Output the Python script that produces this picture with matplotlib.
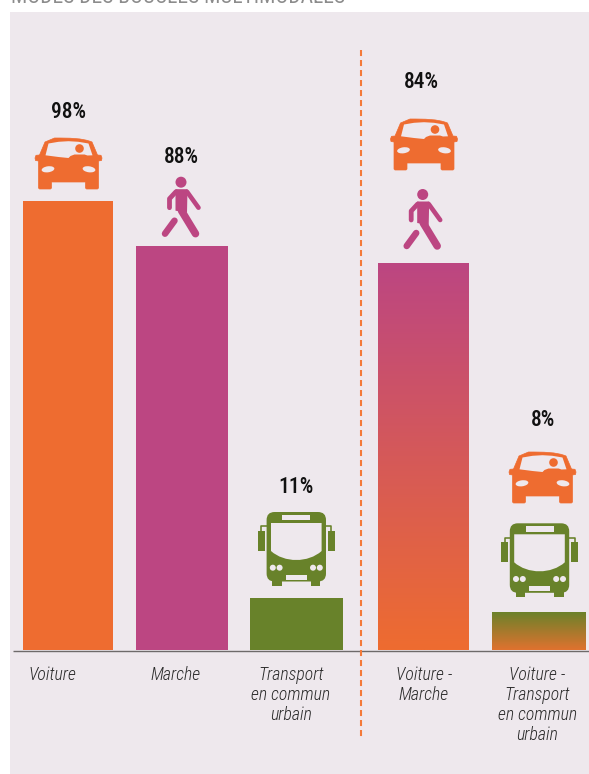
import numpy as np
import matplotlib
matplotlib.use('Agg')
import matplotlib.pyplot as plt
from matplotlib.colors import LinearSegmentedColormap
from matplotlib.patches import Circle, Ellipse, Polygon, Rectangle, FancyBboxPatch, PathPatch
from matplotlib.path import Path

plt.rcParams['font.family'] = ['Roboto Condensed', 'Liberation Sans', 'DejaVu Sans']

# Data
categories = ['Voiture', 'Marche', 'Transport\nen commun\nurbain',
              'Voiture -\nMarche', 'Voiture -\nTransport\nen commun\nurbain']
values = [98, 88.2, 11.4, 84.5, 8.3]  # as drawn
value_labels = ['98%', '88%', '11%', '84%', '8%']
title = 'MODES DES BOUCLES MULTIMODALES'

# Layout, in pixels of the 589x774 picture
W, H = 589, 774
BASE_Y = 650
PX_PER_PCT = 4.585
bar_left = [23, 135.5, 250, 378, 492]
bar_right = [113, 228, 343, 469, 586]
label_x = [68, 181, 296, 421, 543]
label_y = [112, 157, 487, 82, 420]
cat_x = [52.5, 176, 291, 424, 537.5]

ORANGE = '#EE6C30'
MAGENTA = '#BC4682'
GREEN = '#68822A'
PANEL = '#EEE8ED'
bar_colors = [ORANGE, MAGENTA, GREEN, None, None]
bar_grads = [None, None, None, (MAGENTA, ORANGE), (GREEN, '#E0722F')]

fig = plt.figure(figsize=(W / 100, H / 100), dpi=100, facecolor='white')

# Pixel layer for panel and pictograms
deco = fig.add_axes([0, 0, 1, 1], zorder=1)
deco.set_xlim(0, W)
deco.set_ylim(H, 0)
deco.axis('off')
deco.add_patch(Rectangle((10, 12), W - 10, H - 12, fc=PANEL, ec='none', zorder=0))

# Bars, on a percent scale
ax = fig.add_axes([0, 0, 1, 1], zorder=2)
ax.patch.set_alpha(0)
ax.axis('off')
x = [(l + r) / 2 for l, r in zip(bar_left, bar_right)]
w = [r - l for l, r in zip(bar_left, bar_right)]
bars = ax.bar(x, values, width=w, color=[c or 'none' for c in bar_colors], linewidth=0)
for bar, grad, val in zip(bars, bar_grads, values):
    if grad is None:
        continue
    cmap = LinearSegmentedColormap.from_list('g', [grad[0], grad[1]])
    im = ax.imshow(np.linspace(0, 1, 256).reshape(-1, 1), cmap=cmap, aspect='auto',
                   extent=(bar.get_x(), bar.get_x() + bar.get_width(), 0, val), zorder=2)
    im.set_clip_path(bar)
ax.set_xlim(0, W)
ax.set_ylim((BASE_Y - H) / PX_PER_PCT, BASE_Y / PX_PER_PCT)

top = fig.add_axes([0, 0, 1, 1], zorder=3, sharex=deco, sharey=deco)
top.patch.set_alpha(0)
top.axis('off')
top.set_xlim(0, W)
top.set_ylim(H, 0)


def stroke(xs, ys, color, lw, cap='round'):
    top.plot(xs, ys, color=color, lw=lw * 0.72, solid_capstyle=cap, solid_joinstyle='round')


def draw_car(cx, y0, color=ORANGE):
    def T(pts):
        return [(cx + a, y0 + b) for a, b in pts]
    body = [(-23.5, 4), (-29, 17), (-32.5, 17.3), (-33.5, 20), (-33, 22.5), (-30, 23), (-30, 50), (-29, 51),
            (-18, 51), (-17, 50), (-17, 44), (17, 44), (17, 50), (18, 51), (29, 51), (30, 50),
            (30, 23), (33, 22.5), (33.5, 20), (32.5, 17.3), (29, 17), (23.5, 4)]
    # smooth roof
    verts = T(body) + T([(14, 0), (0, 0), (-14, 0), (-23.5, 4), (-23.5, 4)])
    codes = [Path.MOVETO] + [Path.LINETO] * (len(body) - 1) + [Path.CURVE4, Path.CURVE4, Path.CURVE4, Path.LINETO, Path.CLOSEPOLY]
    top.add_patch(PathPatch(Path(verts, codes), fc=color, ec=color, lw=0.5))
    window = [(-23, 17.3), (-10, 19), (0, 20), (2, 18), (6, 16.5), (16, 16.5), (19, 17.5), (24, 17.3),
              (20, 5.5), (10, 3.8), (0, 3.2), (-10, 3.8), (-20, 5.5)]
    top.add_patch(Polygon(T(window), closed=True, fc=PANEL, ec='none'))
    top.add_patch(Circle((cx + 11, y0 + 10.5), 4.3, fc=color, ec='none'))
    for s in (-1, 1):
        top.add_patch(Ellipse((cx + s * 20.5, y0 + 31.3), 12.8, 6, angle=s * 8, fc=PANEL, ec='none'))


def draw_walker(cx, y0, color=MAGENTA):
    top.add_patch(Circle((cx, y0 + 5.5), 5.5, fc=color, ec='none'))
    torso = [(-5.5, 12.5), (6.5, 12.5), (6, 36), (-5.5, 34)]
    top.add_patch(Polygon([(cx + a, y0 + b) for a, b in torso], closed=True, fc=color, ec='none'))
    stroke([cx - 5, cx - 11.5, cx - 11.5], [y0 + 15, y0 + 22, y0 + 31], color, 4.8)
    stroke([cx + 6, cx + 17.5], [y0 + 15, y0 + 31], color, 4.6)
    stroke([cx + 0.5, cx + 14.5], [y0 + 34, y0 + 57], color, 7.5)
    stroke([cx - 6.5, cx - 16], [y0 + 44, y0 + 57], color, 6.5)


def draw_bus(cx, y0, color=GREEN):
    def T(pts):
        return [(cx + a, y0 + b) for a, b in pts]
    for s in (-1, 1):
        top.add_patch(Rectangle((cx + min(s * 31.7, s * 38.7), y0 + 19), 7, 20, fc=color, ec='none'))
        stroke([cx + s * 35, cx + s * 35, cx + s * 28], [y0 + 19, y0 + 14.2, y0 + 14.2], color, 1.6, cap='butt')
        top.add_patch(Rectangle((cx + min(s * 14.7, s * 24), y0 + 64), 9.3, 10, fc=color, ec='none'))
    top.add_patch(FancyBboxPatch((cx - 21.7, y0 + 8), 43.4, 53.5, boxstyle='round,pad=8,rounding_size=8',
                                 fc=color, ec='none'))
    top.add_patch(Rectangle((cx - 14, y0 + 3), 28, 5.3, fc=PANEL, ec='none'))
    shield = [(-25.3, 11), (25.3, 11), (25.3, 39)]
    verts = T(shield) + T([(12, 51), (-12, 51), (-25.3, 39), (-25.3, 11)])
    codes = [Path.MOVETO, Path.LINETO, Path.LINETO, Path.CURVE4, Path.CURVE4, Path.CURVE4, Path.CLOSEPOLY]
    top.add_patch(PathPatch(Path(verts, codes), fc=PANEL, ec='none'))
    for a in (-23.5, -16.7, 16.7, 23.5):
        top.add_patch(Circle((cx + a, y0 + 55.7), 3, fc=PANEL, ec='none'))
    top.add_patch(Rectangle((cx - 10.3, y0 + 62.7), 20.6, 5, fc=PANEL, ec='none'))


draw_car(68.5, 138)
draw_car(424, 119)
draw_car(542.5, 452)
draw_walker(181, 176.7)
draw_walker(422.7, 189)
draw_bus(296.3, 512)
draw_bus(539.5, 523.3)

# Baseline and separator
top.plot([13, W], [BASE_Y + 0.5, BASE_Y + 0.5], color='#6E6A6A', lw=1.0, solid_capstyle='butt')
top.plot([360.7, 360.7], [50, 739], color='#F47A3A', lw=1.5, dashes=(2.9, 1.9), dash_capstyle='butt')

# Text
for xp, yp, s in zip(label_x, label_y, value_labels):
    top.text(xp, yp, s, ha='center', va='center', fontsize=15.5, fontweight='medium', color='#111111')
line_h = 20
for xp, cat in zip(cat_x, categories):
    for i, part in enumerate(cat.split('\n')):
        top.text(xp, 674.5 + i * line_h, part, ha='center', va='center', fontsize=12.8,
                 style='italic', fontweight='light', color='#2A2A2A')
fig.text(11 / W, 1 - 3 / H, title, ha='left', va='baseline', fontsize=15.5, color='#8C8C8C')

fig.savefig('out.png', dpi=100)
